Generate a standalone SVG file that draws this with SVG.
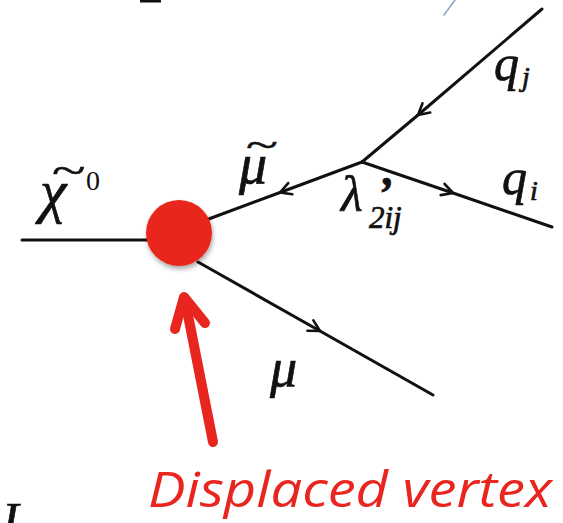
<svg xmlns="http://www.w3.org/2000/svg" width="563" height="523" viewBox="0 0 563 523">
<style>
.ln{fill:none;stroke:#111;stroke-width:3;stroke-linecap:round;stroke-linejoin:round}
.m{font-family:"Liberation Serif","DejaVu Serif",serif;font-style:italic;fill:#111;stroke:#111;stroke-width:0.7}
.u{font-family:"Liberation Serif","DejaVu Serif",serif;font-style:normal;fill:#111}
.t{font-family:"Liberation Serif","DejaVu Serif",serif;font-style:normal;fill:#111;stroke:#111;stroke-width:0.5}
.red{fill:#e8261f}
</style>
<defs>
<marker id="chev" markerUnits="userSpaceOnUse" markerWidth="30" markerHeight="30" viewBox="-15 -15 30 30" refX="0" refY="0" orient="auto">
<path d="M-11,-6 L0,0 L-11,6" fill="none" stroke="#111" stroke-width="2.6" stroke-linecap="round" stroke-linejoin="round"/>
</marker>
<filter id="sh" x="-30%" y="-30%" width="160%" height="160%">
<feGaussianBlur in="SourceAlpha" stdDeviation="2.5"/>
<feOffset dx="1" dy="3" result="b"/>
<feComponentTransfer><feFuncA type="linear" slope="0.35"/></feComponentTransfer>
<feMerge><feMergeNode/><feMergeNode in="SourceGraphic"/></feMerge>
</filter>
</defs>
<rect width="563" height="523" fill="#fff"/>
<!-- cropped fragments at top -->
<rect x="140" y="0" width="21" height="2.5" fill="#111"/>
<path d="M455,0 L444,15" stroke="#8aa6c8" stroke-width="1.6" fill="none" stroke-linecap="round"/>
<g id="connectors">
<path class="ln" d="M22,240 L150,240"/>
<path class="ln" d="M542,9 L418,115 L362,162" marker-mid="url(#chev)"/>
<path class="ln" d="M362,162 L453,193 L552,227" marker-mid="url(#chev)"/>
<path class="ln" d="M362,162 L280,192.5 L206,220" marker-mid="url(#chev)"/>
<path class="ln" d="M198,262 L320,331 L433,395" marker-mid="url(#chev)"/>
</g>
<g id="vertex">
<circle cx="179" cy="233" r="33" class="red" filter="url(#sh)"/>
</g>
<g id="label-chi">
<text class="m" x="40" y="211" font-size="60">χ</text>
<text class="t" transform="translate(52,184) scale(1.55,1)" x="0" y="0" font-size="40">~</text>
<text class="u" x="86" y="190" font-size="28">0</text>
</g>
<g id="label-smu">
<text class="m" x="239" y="183" font-size="56">μ</text>
<text class="t" transform="translate(246,157) scale(1.55,1)" x="0" y="0" font-size="38">~</text>
</g>
<g id="label-lambda">
<text class="m" x="341" y="211" font-size="50">λ</text>
<text class="m" x="377" y="209" font-size="46" font-weight="bold">’</text>
<text class="m" x="369" y="228" font-size="31">2ij</text>
</g>
<g id="label-qi">
<text class="m" x="502" y="194" font-size="50">q<tspan font-size="28" dy="6" dx="3">i</tspan></text>
</g>
<g id="label-qj">
<text class="m" x="494" y="80" font-size="50">q<tspan font-size="28" dy="6" dx="3">j</tspan></text>
</g>
<g id="label-mu">
<text class="m" x="270" y="386" font-size="54">μ</text>
</g>
<g id="annotation">
<path d="M213,442 L186,305" stroke="#e8261f" stroke-width="10" stroke-linecap="round" fill="none"/>
<path d="M175,329 L184,297 L205,323" stroke="#e8261f" stroke-width="10" stroke-linecap="round" stroke-linejoin="round" fill="none"/>
<text x="148" y="507" font-family="'Open Sans','Liberation Sans',sans-serif" font-style="italic" font-size="50" fill="#e8261f" textLength="404" lengthAdjust="spacingAndGlyphs">Displaced vertex</text>
</g>
<text class="m" x="2" y="537" font-size="50">I</text>
</svg>
